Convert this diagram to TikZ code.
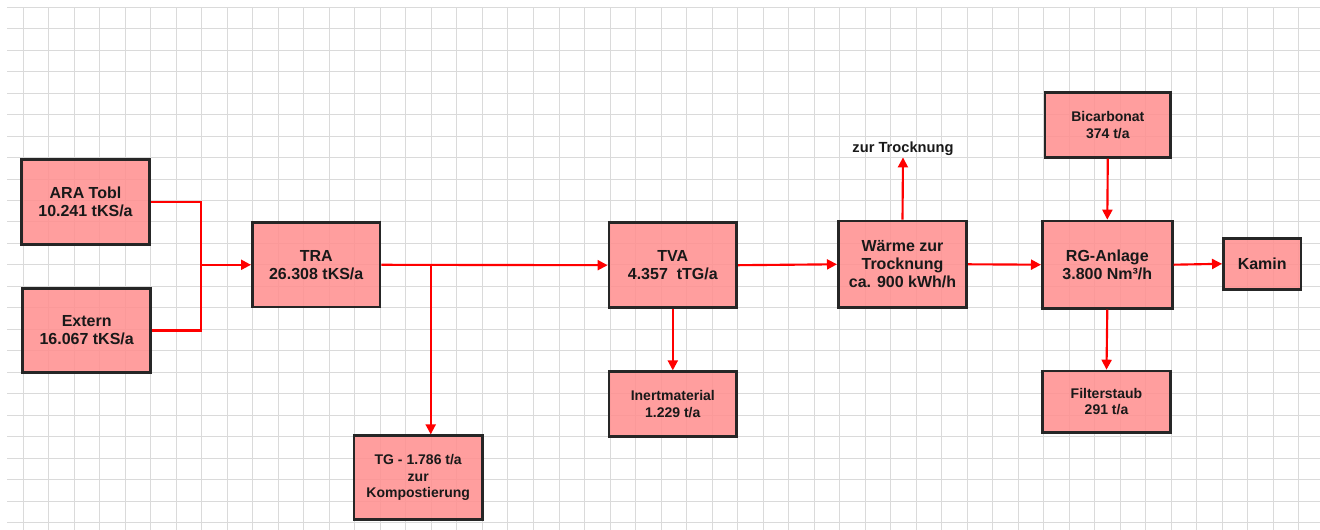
\documentclass[tikz,border=0pt]{standalone}
\usepackage{fontspec}
\setmainfont{Liberation Sans}
\usetikzlibrary{arrows.meta}
\definecolor{gridc}{RGB}{218,218,218}
\definecolor{boxfill}{RGB}{255,145,145}
\definecolor{boxline}{RGB}{38,38,38}
\definecolor{flowred}{RGB}{255,0,0}
\begin{document}
\begin{tikzpicture}[x=0.75pt,y=-0.75pt,
  box/.style={draw=boxline,line width=2pt,fill=boxfill,fill opacity=0.88,text opacity=1,
    align=center,font=\bfseries\fontsize{12}{13.7}\selectfont,text=black!90,inner sep=0pt},
  sbox/.style={box,font=\bfseries\fontsize{10.5}{12.5}\selectfont},
  flow/.style={draw=flowred,line width=1.6pt,-{Triangle[length=7.5pt,width=7.5pt]}},
  fline/.style={draw=flowred,line width=1.6pt},
  gridline/.style={draw=gridc,line width=0.75pt}]
\useasboundingbox[fill=white] (0,0) rectangle (1320,530);
% grid
\foreach \i in {0,...,24} \draw[gridline] (7,{7.3+\i*21.47}) -- (1320,{7.3+\i*21.47});
\foreach \i in {0,...,50} \draw[gridline] ({23.3+\i*25.51},7.3) -- ({23.3+\i*25.51},530);
% boxes
\node[box,minimum width=95.7pt,minimum height=63.75pt] (ara) at (85.5,201.8) {ARA Tobl\\10.241 tKS/a};
\node[box,minimum width=96pt,minimum height=63.3pt] (ext) at (86.7,330.5) {Extern\\16.067 tKS/a};
\node[box,minimum width=95.8pt,minimum height=63.2pt] (tra) at (316.2,264.8) {TRA\\26.308 tKS/a};
\node[sbox,minimum width=96.2pt,minimum height=62.7pt] (tg) at (418.2,477.5) {TG - 1.786 t/a\\zur\\Kompostierung};
\node[box,minimum width=95.8pt,minimum height=63.75pt] (tva) at (672.8,265.2) {TVA\\4.357~~tTG/a};
\node[sbox,minimum width=95.8pt,minimum height=48.75pt] (inert) at (672.8,404.2) {Inertmaterial\\1.229 t/a};
\node[box,minimum width=96.3pt,minimum height=65pt] (waerme) at (902.5,264.3) {Wärme zur\\Trocknung\\ca. 900 kWh/h};
\node[box,minimum width=97.5pt,minimum height=65.5pt] (rg) at (1107.3,264.7) {RG-Anlage\\3.800 Nm³/h};
\node[sbox,minimum width=94.3pt,minimum height=48.5pt] (bic) at (1107.8,125) {Bicarbonat\\374 t/a};
\node[box,minimum width=58.3pt,minimum height=38.25pt] (kamin) at (1262.2,263.8) {Kamin};
\node[sbox,minimum width=96.3pt,minimum height=46pt] (filter) at (1106.5,401.7) {Filterstaub\\291 t/a};
\node[font=\bfseries\fontsize{11}{13}\selectfont,text=black!90,inner sep=1.5pt] (zt) at (903,148.3) {zur Trocknung};
% connectors
\coordinate (j1) at (201,201.8);
\coordinate (j2) at (201,330.5);
\coordinate (jm) at (201,264.8);
\draw[fline] (ara.east) -- (j1) -- (j2) -- (ext.east);
\draw[flow] (jm) -- (tra.west);
\draw[flow] (tra.east) -- (tva.west);
\coordinate (br) at (430.7,264.8);
\draw[flow] (br) -- (br |- tg.north);
\draw[flow] (tva.south) -- (inert.north);
\draw[flow] (tva.east) -- (waerme.west);
\draw[flow] (waerme.north) -- (zt.south);
\draw[flow] (waerme.east) -- (rg.west);
\draw[flow] (bic.south) -- (rg.north);
\draw[flow] (rg.south) -- (filter.north);
\draw[flow] (rg.east) -- (kamin.west);
\end{tikzpicture}
\end{document}
